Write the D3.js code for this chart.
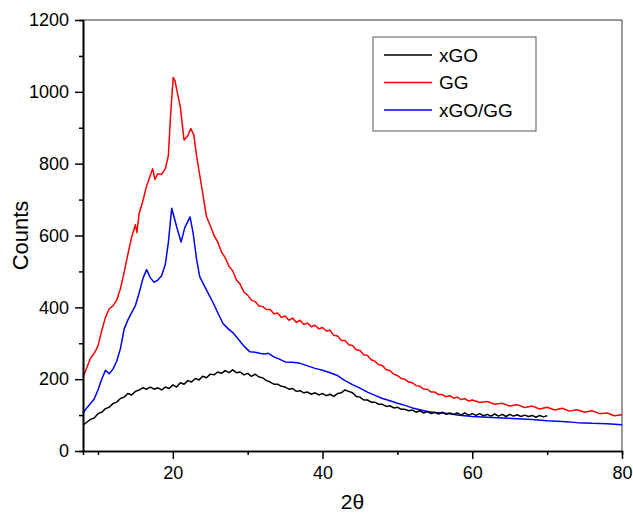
<!DOCTYPE html>
<html>
<head>
<meta charset="utf-8">
<script src="https://cdn.jsdelivr.net/npm/d3@7"></script>
<style>
  body { margin: 0; background: #fff; }
  svg text { font-family: "Liberation Sans", Arial, sans-serif; }
</style>
</head>
<body>
<div id="draw"></div>
<script>
// xGO
var xgoX = [8, 8.5, 9, 9.5, 10, 10.5, 11, 11.5, 12, 12.5, 13, 13.5, 14, 14.5, 15, 15.5, 16, 16.5, 17, 17.5, 18, 18.5, 19, 19.5, 20, 20.5, 21, 21.5, 22, 22.5, 23, 23.5, 24, 24.5, 25, 25.5, 26, 26.5, 27, 27.5, 28, 28.5, 29, 29.5, 30, 30.5, 31, 31.5, 32, 32.5, 33, 33.5, 34, 34.5, 35, 35.5, 36, 36.5, 37, 37.5, 38, 38.5, 39, 39.5, 40, 40.5, 41, 41.5, 42, 42.5, 43, 43.5, 44, 44.5, 45, 45.5, 46, 46.5, 47, 47.5, 48, 48.5, 49, 49.5, 50, 50.5, 51, 51.5, 52, 52.5, 53, 53.5, 54, 54.5, 55, 55.5, 56, 56.5, 57, 57.5, 58, 58.5, 59, 59.5, 60, 60.5, 61, 61.5, 62, 62.5, 63, 63.5, 64, 64.5, 65, 65.5, 66, 66.5, 67, 67.5, 68, 68.5, 69, 69.5, 70];
var xgoY = [72, 80, 88, 92, 104, 108, 118, 122, 132, 136, 146, 150, 160, 156, 166, 170, 176, 172, 178, 172, 176, 170, 178, 174, 184, 178, 190, 186, 196, 192, 202, 198, 208, 204, 214, 212, 220, 216, 224, 218, 226, 218, 220, 212, 216, 208, 214, 206, 204, 196, 192, 186, 186, 180, 178, 172, 174, 166, 168, 162, 164, 158, 162, 156, 160, 154, 158, 152, 160, 162, 170, 166, 162, 152, 150, 142, 142, 136, 136, 130, 130, 124, 126, 120, 122, 116, 116, 112, 114, 108, 112, 106, 110, 104, 108, 103, 108, 102, 106, 102, 106, 100, 106, 100, 104, 99, 104, 98, 102, 97, 103, 97, 102, 96, 102, 97, 101, 96, 100, 96, 99, 94, 99, 95, 98];

// GG
var ggX = [8, 8.5, 9, 9.5, 10, 10.5, 11, 11.5, 12, 12.5, 13, 13.5, 14, 14.5, 15, 15.2, 15.5, 16, 16.5, 17, 17.3, 17.6, 18, 18.5, 19, 19.4, 19.7, 20.05, 20.3, 20.6, 21, 21.5, 22, 22.4, 22.8, 23.2, 23.5, 23.8, 24.2, 24.5, 25, 25.5, 26, 26.5, 27, 27.5, 28, 28.5, 29, 29.5, 30, 30.5, 31, 31.5, 32, 32.5, 33, 33.5, 34, 34.5, 35, 35.5, 36, 36.5, 37, 37.5, 38, 38.5, 39, 39.5, 40, 40.5, 41, 41.5, 42, 42.5, 43, 43.5, 44, 44.5, 45, 45.5, 46, 46.5, 47, 47.5, 48, 48.5, 49, 49.5, 50, 50.5, 51, 51.5, 52, 52.5, 53, 53.5, 54, 54.5, 55, 55.5, 56, 56.5, 57, 57.5, 58, 58.5, 59, 59.5, 60, 61, 62, 63, 64, 65, 66, 67, 68, 69, 70, 71, 72, 73, 74, 75, 76, 77, 78, 79, 80];
var ggY = [205, 232, 258, 272, 292, 335, 372, 396, 404, 420, 452, 498, 548, 596, 630, 608, 662, 696, 738, 768, 786, 756, 772, 770, 786, 822, 935, 1040, 1030, 998, 958, 866, 878, 898, 880, 818, 780, 742, 690, 652, 628, 600, 582, 554, 538, 514, 502, 476, 464, 442, 434, 420, 416, 404, 402, 394, 394, 382, 384, 372, 376, 364, 370, 358, 364, 352, 356, 346, 350, 340, 344, 334, 336, 322, 320, 308, 308, 296, 294, 282, 280, 268, 266, 254, 250, 240, 238, 226, 224, 214, 210, 202, 200, 192, 190, 182, 180, 172, 172, 164, 164, 157, 157, 151, 154, 147, 150, 143, 146, 139, 142, 135, 138, 130, 133, 125, 129, 121, 125, 117, 122, 114, 119, 111, 115, 108, 112, 104, 106, 98, 101];

// xGO/GG
var mixX = [8, 8.5, 9, 9.5, 10, 10.5, 11, 11.5, 12, 12.5, 13, 13.5, 14, 14.5, 15, 15.5, 16, 16.5, 17, 17.5, 18, 18.5, 19, 19.4, 19.85, 20.5, 21.1, 21.6, 22.3, 22.7, 23.2, 23.6, 24.5, 25.4, 26, 26.7, 27.4, 28.1, 29, 29.5, 30.3, 31, 31.6, 32.2, 32.75, 33.5, 34.3, 35, 36, 37, 38, 39, 40, 41, 42, 43, 44, 45, 46, 47, 48, 49, 50, 51, 52, 53, 54, 55, 56, 57, 58, 59, 60, 62, 64, 66, 68, 70, 72, 74, 76, 78, 80];
var mixY = [105, 120, 132, 145, 170, 200, 225, 215, 228, 250, 285, 340, 365, 385, 405, 440, 480, 505, 482, 470, 476, 488, 520, 580, 676, 625, 582, 622, 652, 608, 530, 485, 448, 412, 385, 355, 340, 328, 305, 292, 276, 275, 272, 270, 272, 262, 255, 248, 247, 244, 237, 230, 225, 218, 210, 196, 185, 175, 164, 155, 146, 140, 133, 127, 120, 115, 110, 107, 106, 104, 100, 98, 96, 94, 92, 90, 88, 84, 82, 79, 77, 76, 73];

var seriesNames = ["xGO", "GG", "xGO/GG"];
var seriesColors = ["#000000", "#ff0000", "#0000ff"];
var xTicks = [20, 40, 60, 80];
var yTicks = [0, 200, 400, 600, 800, 1000, 1200];

var width = 633, height = 513;
var margin = {left: 83, top: 20, right: 11, bottom: 62};
var w = width - margin.left - margin.right;
var h = height - margin.top - margin.bottom;

var svg = d3.select("#draw").append("svg")
	.attr("width", width)
	.attr("height", height);

var g = svg.append("g")
	.attr("transform", "translate(" + margin.left + "," + margin.top + ")");

var x = d3.scaleLinear().domain([8, 80]).range([0, w]);
var y = d3.scaleLinear().domain([0, 1200]).range([h, 0]);

// frame (top and right)
g.append("path")
	.attr("d", "M0,0H" + w + "V" + h)
	.attr("fill", "none")
	.attr("stroke", "#333")
	.attr("stroke-width", 1);

var series = [
	{x: xgoX, y: xgoY},
	{x: ggX, y: ggY},
	{x: mixX, y: mixY}
];

var line = d3.line()
	.x(function(d){ return x(d[0]); })
	.y(function(d){ return y(d[1]); });

// GG first, then xGO/GG, xGO on top
[1, 2, 0].forEach(function(i){
	var pts = series[i].x.map(function(v, k){ return [v, series[i].y[k]]; });
	g.append("path")
		.datum(pts)
		.attr("d", line)
		.attr("fill", "none")
		.attr("stroke", seriesColors[i])
		.attr("stroke-width", 1.5)
		.attr("stroke-linejoin", "round");
});

// minor ticks
var xAxisMinor = d3.axisBottom(x).tickValues([10, 30, 50, 70]).tickSize(4).tickFormat("");
var yAxisMinor = d3.axisLeft(y).tickValues([100, 300, 500, 700, 900, 1100]).tickSize(4).tickFormat("");

g.append("g").attr("transform", "translate(0," + h + ")").call(xAxisMinor);
g.append("g").call(yAxisMinor);

var xAxis = d3.axisBottom(x).tickValues(xTicks).tickSize(8).tickPadding(7)
	.tickSizeOuter(0).tickFormat(d3.format("d"));
var yAxis = d3.axisLeft(y).tickValues(yTicks).tickSize(8).tickPadding(6)
	.tickSizeOuter(0).tickFormat(d3.format("d"));

g.append("g").attr("class", "xaxis").attr("transform", "translate(0," + h + ")").call(xAxis);
g.append("g").attr("class", "yaxis").call(yAxis);

g.selectAll(".domain").attr("stroke", "#000").attr("stroke-width", 1.6);
g.selectAll(".tick line").attr("stroke", "#000").attr("stroke-width", 1.5);
g.selectAll(".tick text")
	.attr("fill", "#000")
	.style("font-size", "18px")
	.style("font-family", "'Liberation Sans', Arial, sans-serif");

// axis titles
svg.append("text")
	.attr("x", margin.left + w / 2)
	.attr("y", 509)
	.attr("text-anchor", "middle")
	.style("font-size", "21px")
	.text("2θ");

svg.append("text")
	.attr("transform", "translate(28," + (margin.top + h / 2) + ") rotate(-90)")
	.attr("text-anchor", "middle")
	.style("font-size", "22px")
	.text("Counts");

// legend
var legend = svg.append("g").attr("transform", "translate(373,37)");
legend.append("rect")
	.attr("width", 163)
	.attr("height", 94)
	.attr("fill", "#fff")
	.attr("stroke", "#555")
	.attr("stroke-width", 1);

seriesNames.forEach(function(name, i){
	var yy = 18 + i * 27.5;
	legend.append("line")
		.attr("x1", 11).attr("x2", 59)
		.attr("y1", yy).attr("y2", yy)
		.attr("stroke", seriesColors[i])
		.attr("stroke-width", 1.5);
	legend.append("text")
		.attr("x", 66)
		.attr("y", yy + 6.5)
		.style("font-size", "19px")
		.text(name);
});
</script>
</body>
</html>
